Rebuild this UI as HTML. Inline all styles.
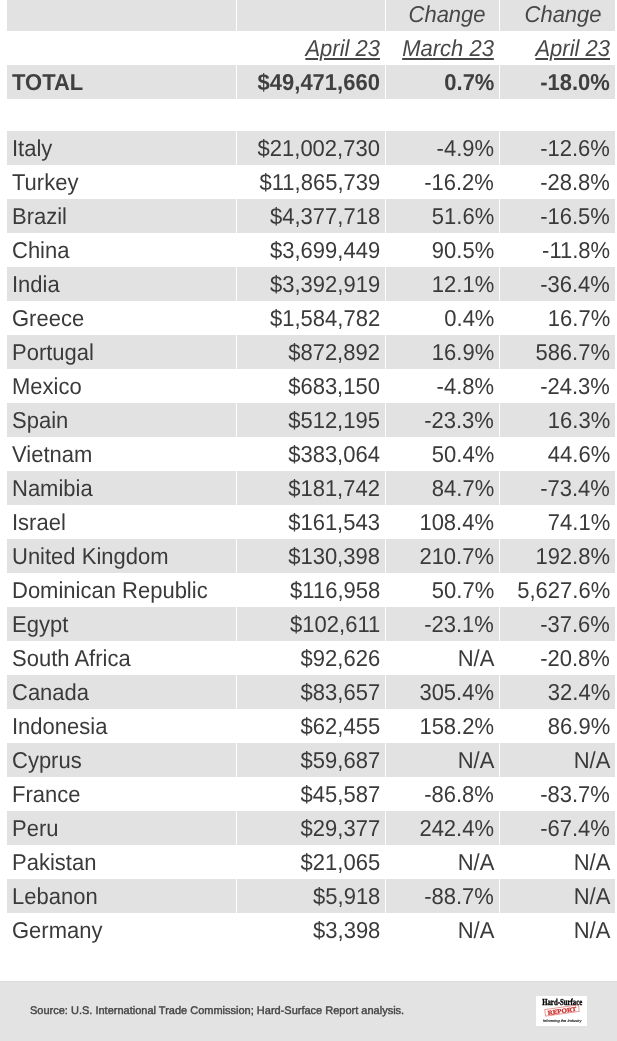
<!DOCTYPE html>
<html><head><meta charset="utf-8"><style>
html,body{margin:0;padding:0;background:#fff;}
body{will-change:transform;text-rendering:geometricPrecision;width:617px;height:1041px;overflow:hidden;position:relative;font-family:"Liberation Sans",Arial,sans-serif;color:#3a3a3a;}
.r{position:absolute;left:0;width:617px;}
.c{position:absolute;top:0;height:100%;box-sizing:border-box;white-space:nowrap;font-size:23px;}
.c span{position:relative;top:0px;display:inline-block;transform:scaleX(0.9565);transform-origin:100% 50%;}
.c0 span{transform-origin:0 50%;}
.g .c{background:#e2e2e2;}
.c0{padding-left:5px;text-align:left;}
.c1,.c2,.c3{text-align:right;padding-right:5px;}
.h .c{color:#474747;font-style:italic;}
.h u{text-decoration:underline;text-decoration-thickness:2px;text-underline-offset:2px;}
.h1 .c span{top:-1px;}
.h1 .c2,.h1 .c3{padding-right:13px;}
.t .c{font-weight:bold;color:#404040;}
.foot{position:absolute;left:0;top:981px;width:617px;height:60px;background:#e3e3e3;border-top:1px solid #dadada;box-sizing:border-box;}
.src{position:absolute;left:30px;top:1005px;font-size:11px;color:#454545;white-space:nowrap;-webkit-text-stroke:0.4px #454545;}
.logo{position:absolute;left:536px;top:996px;width:51px;height:30px;}
</style></head><body>
<div class="r h h1 g" style="top:0px;height:31px;line-height:31px"><div class="c c0" style="left:7px;width:229px"><span></span></div><div class="c c1" style="left:237px;width:148px"><span></span></div><div class="c c2" style="left:386px;width:113px"><span>Change</span></div><div class="c c3" style="left:500px;width:115px"><span>Change</span></div></div>
<div class="r h" style="top:31px;height:34px;line-height:34px"><div class="c c0" style="left:7px;width:229px"><span></span></div><div class="c c1" style="left:237px;width:148px"><span><u>April 23</u></span></div><div class="c c2" style="left:386px;width:113px"><span><u>March 23</u></span></div><div class="c c3" style="left:500px;width:115px"><span><u>April 23</u></span></div></div>
<div class="r t g" style="top:65px;height:34px;line-height:34px"><div class="c c0" style="left:7px;width:229px"><span>TOTAL</span></div><div class="c c1" style="left:237px;width:148px"><span>$49,471,660</span></div><div class="c c2" style="left:386px;width:113px"><span>0.7%</span></div><div class="c c3" style="left:500px;width:115px"><span>-18.0%</span></div></div>
<div class="r  g" style="top:131px;height:34px;line-height:34px"><div class="c c0" style="left:7px;width:229px"><span>Italy</span></div><div class="c c1" style="left:237px;width:148px"><span>$21,002,730</span></div><div class="c c2" style="left:386px;width:113px"><span>-4.9%</span></div><div class="c c3" style="left:500px;width:115px"><span>-12.6%</span></div></div>
<div class="r " style="top:165px;height:34px;line-height:34px"><div class="c c0" style="left:7px;width:229px"><span>Turkey</span></div><div class="c c1" style="left:237px;width:148px"><span>$11,865,739</span></div><div class="c c2" style="left:386px;width:113px"><span>-16.2%</span></div><div class="c c3" style="left:500px;width:115px"><span>-28.8%</span></div></div>
<div class="r  g" style="top:199px;height:34px;line-height:34px"><div class="c c0" style="left:7px;width:229px"><span>Brazil</span></div><div class="c c1" style="left:237px;width:148px"><span>$4,377,718</span></div><div class="c c2" style="left:386px;width:113px"><span>51.6%</span></div><div class="c c3" style="left:500px;width:115px"><span>-16.5%</span></div></div>
<div class="r " style="top:233px;height:34px;line-height:34px"><div class="c c0" style="left:7px;width:229px"><span>China</span></div><div class="c c1" style="left:237px;width:148px"><span>$3,699,449</span></div><div class="c c2" style="left:386px;width:113px"><span>90.5%</span></div><div class="c c3" style="left:500px;width:115px"><span>-11.8%</span></div></div>
<div class="r  g" style="top:267px;height:34px;line-height:34px"><div class="c c0" style="left:7px;width:229px"><span>India</span></div><div class="c c1" style="left:237px;width:148px"><span>$3,392,919</span></div><div class="c c2" style="left:386px;width:113px"><span>12.1%</span></div><div class="c c3" style="left:500px;width:115px"><span>-36.4%</span></div></div>
<div class="r " style="top:301px;height:34px;line-height:34px"><div class="c c0" style="left:7px;width:229px"><span>Greece</span></div><div class="c c1" style="left:237px;width:148px"><span>$1,584,782</span></div><div class="c c2" style="left:386px;width:113px"><span>0.4%</span></div><div class="c c3" style="left:500px;width:115px"><span>16.7%</span></div></div>
<div class="r  g" style="top:335px;height:34px;line-height:34px"><div class="c c0" style="left:7px;width:229px"><span>Portugal</span></div><div class="c c1" style="left:237px;width:148px"><span>$872,892</span></div><div class="c c2" style="left:386px;width:113px"><span>16.9%</span></div><div class="c c3" style="left:500px;width:115px"><span>586.7%</span></div></div>
<div class="r " style="top:369px;height:34px;line-height:34px"><div class="c c0" style="left:7px;width:229px"><span>Mexico</span></div><div class="c c1" style="left:237px;width:148px"><span>$683,150</span></div><div class="c c2" style="left:386px;width:113px"><span>-4.8%</span></div><div class="c c3" style="left:500px;width:115px"><span>-24.3%</span></div></div>
<div class="r  g" style="top:403px;height:34px;line-height:34px"><div class="c c0" style="left:7px;width:229px"><span>Spain</span></div><div class="c c1" style="left:237px;width:148px"><span>$512,195</span></div><div class="c c2" style="left:386px;width:113px"><span>-23.3%</span></div><div class="c c3" style="left:500px;width:115px"><span>16.3%</span></div></div>
<div class="r " style="top:437px;height:34px;line-height:34px"><div class="c c0" style="left:7px;width:229px"><span>Vietnam</span></div><div class="c c1" style="left:237px;width:148px"><span>$383,064</span></div><div class="c c2" style="left:386px;width:113px"><span>50.4%</span></div><div class="c c3" style="left:500px;width:115px"><span>44.6%</span></div></div>
<div class="r  g" style="top:471px;height:34px;line-height:34px"><div class="c c0" style="left:7px;width:229px"><span>Namibia</span></div><div class="c c1" style="left:237px;width:148px"><span>$181,742</span></div><div class="c c2" style="left:386px;width:113px"><span>84.7%</span></div><div class="c c3" style="left:500px;width:115px"><span>-73.4%</span></div></div>
<div class="r " style="top:505px;height:34px;line-height:34px"><div class="c c0" style="left:7px;width:229px"><span>Israel</span></div><div class="c c1" style="left:237px;width:148px"><span>$161,543</span></div><div class="c c2" style="left:386px;width:113px"><span>108.4%</span></div><div class="c c3" style="left:500px;width:115px"><span>74.1%</span></div></div>
<div class="r  g" style="top:539px;height:34px;line-height:34px"><div class="c c0" style="left:7px;width:229px"><span>United Kingdom</span></div><div class="c c1" style="left:237px;width:148px"><span>$130,398</span></div><div class="c c2" style="left:386px;width:113px"><span>210.7%</span></div><div class="c c3" style="left:500px;width:115px"><span>192.8%</span></div></div>
<div class="r " style="top:573px;height:34px;line-height:34px"><div class="c c0" style="left:7px;width:229px"><span>Dominican Republic</span></div><div class="c c1" style="left:237px;width:148px"><span>$116,958</span></div><div class="c c2" style="left:386px;width:113px"><span>50.7%</span></div><div class="c c3" style="left:500px;width:115px"><span>5,627.6%</span></div></div>
<div class="r  g" style="top:607px;height:34px;line-height:34px"><div class="c c0" style="left:7px;width:229px"><span>Egypt</span></div><div class="c c1" style="left:237px;width:148px"><span>$102,611</span></div><div class="c c2" style="left:386px;width:113px"><span>-23.1%</span></div><div class="c c3" style="left:500px;width:115px"><span>-37.6%</span></div></div>
<div class="r " style="top:641px;height:34px;line-height:34px"><div class="c c0" style="left:7px;width:229px"><span>South Africa</span></div><div class="c c1" style="left:237px;width:148px"><span>$92,626</span></div><div class="c c2" style="left:386px;width:113px"><span>N/A</span></div><div class="c c3" style="left:500px;width:115px"><span>-20.8%</span></div></div>
<div class="r  g" style="top:675px;height:34px;line-height:34px"><div class="c c0" style="left:7px;width:229px"><span>Canada</span></div><div class="c c1" style="left:237px;width:148px"><span>$83,657</span></div><div class="c c2" style="left:386px;width:113px"><span>305.4%</span></div><div class="c c3" style="left:500px;width:115px"><span>32.4%</span></div></div>
<div class="r " style="top:709px;height:34px;line-height:34px"><div class="c c0" style="left:7px;width:229px"><span>Indonesia</span></div><div class="c c1" style="left:237px;width:148px"><span>$62,455</span></div><div class="c c2" style="left:386px;width:113px"><span>158.2%</span></div><div class="c c3" style="left:500px;width:115px"><span>86.9%</span></div></div>
<div class="r  g" style="top:743px;height:34px;line-height:34px"><div class="c c0" style="left:7px;width:229px"><span>Cyprus</span></div><div class="c c1" style="left:237px;width:148px"><span>$59,687</span></div><div class="c c2" style="left:386px;width:113px"><span>N/A</span></div><div class="c c3" style="left:500px;width:115px"><span>N/A</span></div></div>
<div class="r " style="top:777px;height:34px;line-height:34px"><div class="c c0" style="left:7px;width:229px"><span>France</span></div><div class="c c1" style="left:237px;width:148px"><span>$45,587</span></div><div class="c c2" style="left:386px;width:113px"><span>-86.8%</span></div><div class="c c3" style="left:500px;width:115px"><span>-83.7%</span></div></div>
<div class="r  g" style="top:811px;height:34px;line-height:34px"><div class="c c0" style="left:7px;width:229px"><span>Peru</span></div><div class="c c1" style="left:237px;width:148px"><span>$29,377</span></div><div class="c c2" style="left:386px;width:113px"><span>242.4%</span></div><div class="c c3" style="left:500px;width:115px"><span>-67.4%</span></div></div>
<div class="r " style="top:845px;height:34px;line-height:34px"><div class="c c0" style="left:7px;width:229px"><span>Pakistan</span></div><div class="c c1" style="left:237px;width:148px"><span>$21,065</span></div><div class="c c2" style="left:386px;width:113px"><span>N/A</span></div><div class="c c3" style="left:500px;width:115px"><span>N/A</span></div></div>
<div class="r  g" style="top:879px;height:34px;line-height:34px"><div class="c c0" style="left:7px;width:229px"><span>Lebanon</span></div><div class="c c1" style="left:237px;width:148px"><span>$5,918</span></div><div class="c c2" style="left:386px;width:113px"><span>-88.7%</span></div><div class="c c3" style="left:500px;width:115px"><span>N/A</span></div></div>
<div class="r " style="top:913px;height:34px;line-height:34px"><div class="c c0" style="left:7px;width:229px"><span>Germany</span></div><div class="c c1" style="left:237px;width:148px"><span>$3,398</span></div><div class="c c2" style="left:386px;width:113px"><span>N/A</span></div><div class="c c3" style="left:500px;width:115px"><span>N/A</span></div></div>
<div class="foot"></div>
<div class="src">Source: U.S. International Trade Commission; Hard-Surface Report analysis.</div>
<svg class="logo" width="51" height="30" viewBox="0 0 51 30"><rect x="0" y="0" width="51" height="30" fill="#fff"/><text x="6.2" y="8.9" font-family="Liberation Serif, serif" font-weight="bold" font-size="9.2" textLength="40" lengthAdjust="spacingAndGlyphs" fill="#000" stroke="#000" stroke-width="0.35">Hard-Surface</text><g transform="rotate(-8 26 14.5)"><rect x="9" y="11.2" width="34" height="6.6" fill="none" stroke="#d9534f" stroke-width="0.7" opacity="0.8"/><text x="11.5" y="16.9" font-family="Liberation Serif, serif" font-weight="bold" font-size="6.2" textLength="29" lengthAdjust="spacingAndGlyphs" fill="#c9302c" stroke="#c9302c" stroke-width="0.25">REPORT</text></g><text x="7" y="25.8" font-family="Liberation Sans, sans-serif" font-style="italic" font-size="3.8" textLength="38.6" lengthAdjust="spacingAndGlyphs" fill="#222" stroke="#222" stroke-width="0.15">Informing the Industry</text></svg>
</body></html>
